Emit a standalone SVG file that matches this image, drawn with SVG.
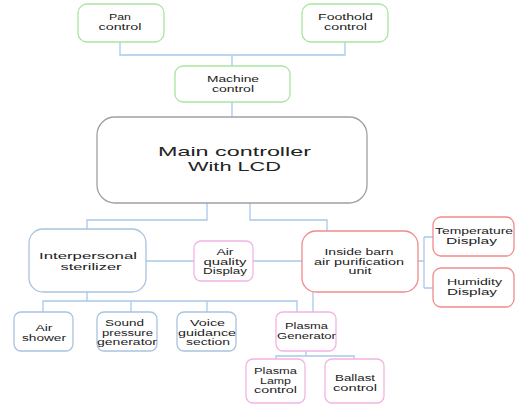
<svg xmlns="http://www.w3.org/2000/svg" width="522" height="407" viewBox="0 0 522 407">
<style>
rect{fill:#fff;stroke-width:1.3}
.g{stroke:#a8e6a0}
.k{stroke:#a0a0a0}
.b{stroke:#a9c3e0}
.p{stroke:#f5b3e3}
.r{stroke:#f08a8a}
text{font-family:"Liberation Sans",Arial,sans-serif;font-size:8.5px;fill:#222;text-anchor:middle}
.big{font-size:13px}
.mid{font-size:9.8px}
#connectors path{fill:none;stroke:#a9c8ea;stroke-width:1.3}
</style>
<rect width="522" height="407" style="fill:#fff;stroke:none"/>
<g id="connectors">
<path d="M120 42V55H345V42M232 55V66M232 102V117"/>
<path d="M207 203V220H87V229M250 203V220H327V231"/>
<path d="M146 261H194M253 261H302"/>
<path d="M418 261H424M424 237V288M424 237H433M424 288H433"/>
<path d="M87 292V301M43 312V301H297V312M131 301V312M207 301V312M313 292V312"/>
<path d="M306 351V356M276 359V356H354V359"/>
</g>
<g id="pan"><rect class="g" x="78" y="4" width="86" height="38" rx="9"/><text x="120" y="20" textLength="22" lengthAdjust="spacingAndGlyphs">Pan</text><text x="120" y="29.5" textLength="43" lengthAdjust="spacingAndGlyphs">control</text></g>
<g id="foothold"><rect class="g" x="302" y="4" width="86" height="38" rx="9"/><text x="345.5" y="20" textLength="55" lengthAdjust="spacingAndGlyphs">Foothold</text><text x="345.5" y="29.5" textLength="43" lengthAdjust="spacingAndGlyphs">control</text></g>
<g id="machine"><rect class="g" x="175" y="66" width="115" height="36" rx="8"/><text x="233" y="82" textLength="52" lengthAdjust="spacingAndGlyphs">Machine</text><text x="233" y="91.5" textLength="42" lengthAdjust="spacingAndGlyphs">control</text></g>
<g id="main"><rect class="k" x="97" y="117" width="270" height="86" rx="18"/><text class="big" x="234.5" y="156" textLength="153" lengthAdjust="spacingAndGlyphs">Main controller</text><text class="big" x="234.5" y="170.5" textLength="93" lengthAdjust="spacingAndGlyphs">With LCD</text></g>
<g id="interpersonal"><rect class="b" x="29" y="229" width="117" height="63" rx="14"/><text class="mid" x="88" y="259" textLength="98" lengthAdjust="spacingAndGlyphs">Interpersonal</text><text class="mid" x="91" y="270" textLength="61" lengthAdjust="spacingAndGlyphs">sterilizer</text></g>
<g id="airquality"><rect class="p" x="194" y="241" width="59" height="40" rx="7"/><text x="225" y="255" textLength="17" lengthAdjust="spacingAndGlyphs">Air</text><text x="225" y="264.5" textLength="43" lengthAdjust="spacingAndGlyphs">quality</text><text x="225" y="274" textLength="44" lengthAdjust="spacingAndGlyphs">Display</text></g>
<g id="insidebarn"><rect class="r" x="302" y="231" width="116" height="61" rx="14"/><text x="359" y="255" textLength="69" lengthAdjust="spacingAndGlyphs">Inside barn</text><text x="359" y="264.5" textLength="90" lengthAdjust="spacingAndGlyphs">air purification</text><text x="360" y="274" textLength="23" lengthAdjust="spacingAndGlyphs">unit</text></g>
<g id="temperature"><rect class="r" x="433" y="217" width="81" height="39" rx="8"/><text x="474" y="234" textLength="78" lengthAdjust="spacingAndGlyphs">Temperature</text><text x="471.5" y="243.5" textLength="51" lengthAdjust="spacingAndGlyphs">Display</text></g>
<g id="humidity"><rect class="r" x="433" y="268" width="81" height="39" rx="8"/><text x="474.5" y="285" textLength="55" lengthAdjust="spacingAndGlyphs">Humidity</text><text x="472" y="294.5" textLength="50" lengthAdjust="spacingAndGlyphs">Display</text></g>
<g id="airshower"><rect class="b" x="14" y="312" width="59" height="39" rx="7"/><text x="44" y="331" textLength="17" lengthAdjust="spacingAndGlyphs">Air</text><text x="44" y="340.5" textLength="44" lengthAdjust="spacingAndGlyphs">shower</text></g>
<g id="sound"><rect class="b" x="97" y="312" width="60" height="39" rx="7"/><text x="124.5" y="326" textLength="39" lengthAdjust="spacingAndGlyphs">Sound</text><text x="127.5" y="335.5" textLength="51" lengthAdjust="spacingAndGlyphs">pressure</text><text x="127" y="345" textLength="60" lengthAdjust="spacingAndGlyphs">generator</text></g>
<g id="voice"><rect class="b" x="177" y="312" width="59" height="39" rx="7"/><text x="207.5" y="326" textLength="35" lengthAdjust="spacingAndGlyphs">Voice</text><text x="207" y="335.5" textLength="58" lengthAdjust="spacingAndGlyphs">guidance</text><text x="208" y="345" textLength="44" lengthAdjust="spacingAndGlyphs">section</text></g>
<g id="plasma"><rect class="p" x="276" y="312" width="60" height="39" rx="7"/><text x="306.5" y="329" textLength="43" lengthAdjust="spacingAndGlyphs">Plasma</text><text x="306.5" y="338.5" textLength="59" lengthAdjust="spacingAndGlyphs">Generator</text></g>
<g id="lamp"><rect class="p" x="246" y="359" width="59" height="44" rx="7"/><text x="275.5" y="374" textLength="43" lengthAdjust="spacingAndGlyphs">Plasma</text><text x="275.5" y="383.5" textLength="31" lengthAdjust="spacingAndGlyphs">Lamp</text><text x="275.5" y="393" textLength="43" lengthAdjust="spacingAndGlyphs">control</text></g>
<g id="ballast"><rect class="p" x="325" y="359" width="59" height="44" rx="7"/><text x="355" y="381" textLength="40" lengthAdjust="spacingAndGlyphs">Ballast</text><text x="355" y="390.5" textLength="44" lengthAdjust="spacingAndGlyphs">control</text></g>
</svg>
